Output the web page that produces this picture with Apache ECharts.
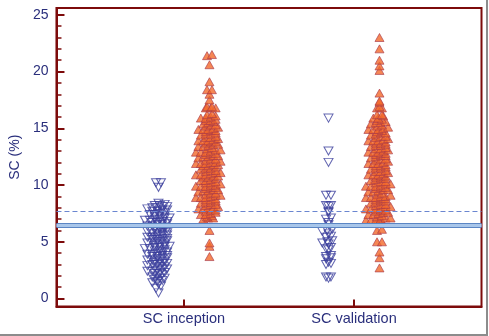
<!DOCTYPE html>
<html>
<head>
<meta charset="utf-8">
<script src="https://cdn.jsdelivr.net/npm/echarts@6/dist/echarts.min.js"></script>
<style>
html,body{margin:0;padding:0;background:#fff;}
#wrap{position:relative;width:489px;height:336px;}
#chart{position:absolute;left:0;top:0;width:489px;height:336px;}
#edge{position:absolute;left:0;top:0;border-right:2px solid #8c8c8c;border-bottom:2px solid #8c8c8c;box-sizing:border-box;width:488px;height:336px;pointer-events:none;}
</style>
</head>
<body>
<div id="wrap"><div id="chart"></div><div id="edge"></div></div>
<script>
// ---- data ----
const categories = ['SC inception', 'SC validation'];
const yTickLabels = [0, 5, 10, 15, 20, 25];
const yMinorTicks = [0,1,2,3,4,5,6,7,8,9,10,11,12,13,14,15,16,17,18,19,20,21,22,23,24,25];
const cutoffDashed = 7.65;
const cutoffSolid = 6.5;

const inceptionBlue = [0.5, 0.9, 1.1, 1.3, 1.4, 1.5, 1.6, 1.7, 1.8, 1.8, 1.9, 2.0, 2.1, 2.2, 2.2, 2.3, 2.4, 2.4, 2.5, 2.6, 2.6, 2.7, 2.8, 2.8, 2.9,
  3.0, 3.0, 3.1, 3.1, 3.2, 3.3, 3.3, 3.4, 3.4, 3.5, 3.5, 3.6, 3.7, 3.7, 3.8, 3.8, 3.9, 3.9,
  4.0, 4.1, 4.1, 4.2, 4.2, 4.3, 4.4, 4.4, 4.5, 4.5, 4.6, 4.6, 4.7, 4.8, 4.8, 4.9, 4.9,
  5.0, 5.0, 5.1, 5.2, 5.2, 5.3, 5.3, 5.4, 5.4, 5.5, 5.6, 5.6, 5.7, 5.7, 5.8, 5.8, 5.9, 5.9,
  6.0, 6.1, 6.1, 6.2, 6.2, 6.3, 6.4, 6.4, 6.5, 6.5, 6.6, 6.7, 6.7, 6.8, 6.8, 6.9, 6.9,
  7.0, 7.0, 7.1, 7.1, 7.2, 7.3, 7.3, 7.4, 7.4, 7.5, 7.6, 7.7, 7.7, 7.8, 7.8, 7.9,
  8.0, 8.0, 8.1, 8.1, 8.2, 8.2, 8.3, 8.4, 9.8, 10.2, 10.2];

const inceptionOrange = [3.7, 4.6, 4.9, 6.0,
  7.0, 7.1, 7.1, 7.2, 7.3, 7.4, 7.4, 7.5, 7.6, 7.7, 7.8, 7.8, 7.9, 7.9,
  8.0, 8.0, 8.1, 8.2, 8.3, 8.3, 8.4, 8.5, 8.5, 8.6, 8.7, 8.7, 8.8, 8.9, 8.9, 8.9,
  9.0, 9.1, 9.1, 9.2, 9.3, 9.3, 9.4, 9.5, 9.5, 9.6, 9.6, 9.7, 9.8, 9.8, 9.9, 9.9, 9.9,
  10.0, 10.0, 10.1, 10.2, 10.2, 10.3, 10.4, 10.4, 10.5, 10.6, 10.7, 10.7, 10.8, 10.8, 10.9, 10.9, 10.9,
  11.0, 11.1, 11.1, 11.2, 11.3, 11.3, 11.4, 11.5, 11.5, 11.6, 11.7, 11.7, 11.8, 11.8, 11.9, 11.9, 11.9,
  12.0, 12.0, 12.1, 12.2, 12.3, 12.3, 12.4, 12.5, 12.5, 12.6, 12.6, 12.7, 12.8, 12.8, 12.9, 12.9, 12.9,
  13.0, 13.1, 13.1, 13.2, 13.3, 13.4, 13.4, 13.5, 13.6, 13.6, 13.7, 13.8, 13.8, 13.9, 13.9, 13.9,
  14.0, 14.1, 14.2, 14.2, 14.3, 14.4, 14.5, 14.5, 14.6, 14.7, 14.8, 14.8, 14.9, 14.9, 14.9,
  15.0, 15.1, 15.2, 15.3, 15.3, 15.4, 15.5, 15.6, 15.7, 15.7, 15.8, 15.9, 15.9,
  16.0, 16.1, 16.2, 16.3, 16.8, 16.8, 16.8, 16.9, 16.9,
  17.5, 18.0, 18.4, 18.4, 19.1, 20.6, 21.4, 21.5];

const validationBlue = [1.8, 1.9, 1.9, 3.0, 3.1, 3.2, 3.5, 3.6, 3.7, 3.8, 4.3, 4.4, 4.5, 4.8, 4.9, 5.0, 5.1, 5.4, 5.5, 5.7, 5.9,
  6.0, 6.1, 6.5, 6.7, 7.0, 7.1, 7.6, 7.7, 8.1, 8.2, 8.2, 9.1, 9.1, 12.0, 13.0, 15.9];

const validationOrange = [2.7, 3.6, 4.1, 5.0, 5.0, 6.0, 6.1,
  6.8, 6.8, 6.9, 6.9, 6.9,
  7.0, 7.1, 7.1, 7.2, 7.3, 7.4, 7.4, 7.5, 7.6, 7.6, 7.7, 7.8, 7.8, 7.9, 7.9, 7.9,
  8.0, 8.1, 8.1, 8.2, 8.3, 8.3, 8.4, 8.5, 8.6, 8.6, 8.7, 8.8, 8.8, 8.9, 8.9, 8.9,
  9.0, 9.0, 9.1, 9.2, 9.3, 9.4, 9.4, 9.5, 9.6, 9.6, 9.7, 9.8, 9.8, 9.9, 9.9, 9.9,
  10.0, 10.1, 10.1, 10.2, 10.3, 10.3, 10.4, 10.5, 10.6, 10.6, 10.7, 10.8, 10.8, 10.9, 10.9, 10.9,
  11.0, 11.1, 11.2, 11.2, 11.3, 11.4, 11.5, 11.5, 11.6, 11.7, 11.7, 11.8, 11.9, 11.9, 11.9,
  12.0, 12.1, 12.2, 12.3, 12.3, 12.4, 12.5, 12.6, 12.6, 12.7, 12.8, 12.8, 12.9, 12.9, 12.9,
  13.0, 13.1, 13.2, 13.2, 13.3, 13.4, 13.5, 13.5, 13.6, 13.7, 13.7, 13.8, 13.9, 13.9, 13.9,
  14.0, 14.1, 14.2, 14.3, 14.3, 14.4, 14.5, 14.6, 14.6, 14.7, 14.8, 14.9, 14.9, 14.9,
  15.0, 15.1, 15.2, 15.3, 15.4, 15.5, 15.5, 15.6, 15.7, 15.8, 15.9, 15.9,
  16.1, 16.2, 16.2, 16.8, 16.8, 16.9,
  17.3, 17.4, 18.1, 20.1, 20.5, 21.0, 22.0, 23.0];

// ---- layout: dot-plot spreading of near-equal values ----
const BIN = 0.25, STEP = 0.029, SIDE = 0.15;
function dotPlot(values, center) {
  const bins = new Map();
  values.slice().sort((a, b) => a - b).forEach(v => {
    const k = Math.round(v / BIN + 1e-6);
    if (!bins.has(k)) bins.set(k, []);
    bins.get(k).push(v);
  });
  const out = [];
  bins.forEach((arr, k) => {
    const n = arr.length;
    const stagger = n > 2 ? ((k % 2) ? STEP / 4 : -STEP / 4) : 0;
    arr.forEach((v, i) => out.push([center + stagger + (i - (n - 1) / 2) * STEP, v]));
  });
  return out;
}

const AX = '#7d0b0b';
const TXT = '#2a2f7c';
const FONT = 'Liberation Sans, Arial, sans-serif';
const SYM = [9, 8];
const blueStyle = { color: 'rgba(0,0,0,0)', borderColor: '#3b3f9c', borderWidth: 1 };
const orangeStyle = { color: '#f2692b', borderColor: '#a8384a', borderWidth: 0.8 };

const chart = echarts.init(document.getElementById('chart'), null, { renderer: 'canvas' });
chart.setOption({
  animation: false,
  backgroundColor: '#fff',
  grid: { left: 55, right: 7.5, top: 8, bottom: 29.5, show: true, borderColor: AX, borderWidth: 2, backgroundColor: 'transparent' },
  xAxis: {
    type: 'value', min: 0.25, max: 2.75,
    axisLine: { show: true, onZero: false, lineStyle: { color: AX, width: 2 } },
    axisTick: { show: true, inside: true, length: 7, lineStyle: { color: AX, width: 2 }, customValues: [1, 2] },
    axisLabel: { customValues: [1, 2], formatter: v => categories[Math.round(v) - 1], color: TXT, fontSize: 14.5, fontFamily: FONT, margin: 5 },
    splitLine: { show: false }
  },
  yAxis: [{
    type: 'value', min: -0.7, max: 25.6,
    name: 'SC (%)', nameLocation: 'middle', nameGap: 34, nameRotate: 90,
    nameTextStyle: { color: TXT, fontSize: 14, fontFamily: FONT },
    axisLine: { show: true, onZero: false, lineStyle: { color: AX, width: 2 } },
    axisTick: { show: true, inside: true, length: 8, lineStyle: { color: AX, width: 2 }, customValues: yTickLabels },
    axisLabel: { customValues: yTickLabels, color: TXT, fontSize: 14, fontFamily: FONT, margin: 8 },
    splitLine: { show: false }
  }, {
    type: 'value', min: -0.7, max: 25.6, position: 'left',
    axisLine: { show: false },
    axisTick: { show: true, inside: true, length: 5, lineStyle: { color: AX, width: 1.5 }, customValues: yMinorTicks },
    axisLabel: { show: false },
    splitLine: { show: false }
  }],
  series: [
    {
      type: 'scatter', data: [], z: 1, silent: true,
      markLine: {
        silent: true, symbol: 'none', label: { show: false }, animation: false,
        data: [
          { yAxis: cutoffSolid, lineStyle: { color: '#5b86c4', width: 5, type: 'solid' } },
          { yAxis: cutoffSolid, lineStyle: { color: '#a8c6ea', width: 3, type: 'solid' } },
          { yAxis: cutoffDashed, lineStyle: { color: '#6b86d0', width: 1, type: [5, 3] } }
        ]
      }
    },
    { type: 'scatter', z: 3, symbol: 'triangle', symbolRotate: 180, symbolSize: SYM, itemStyle: blueStyle, data: dotPlot(inceptionBlue, 1 - SIDE) },
    { type: 'scatter', z: 3, symbol: 'triangle', symbolSize: SYM, itemStyle: orangeStyle, data: dotPlot(inceptionOrange, 1 + SIDE) },
    { type: 'scatter', z: 3, symbol: 'triangle', symbolRotate: 180, symbolSize: SYM, itemStyle: blueStyle, data: dotPlot(validationBlue, 2 - SIDE) },
    { type: 'scatter', z: 3, symbol: 'triangle', symbolSize: SYM, itemStyle: orangeStyle, data: dotPlot(validationOrange, 2 + SIDE) }
  ]
});
</script>
</body>
</html>
